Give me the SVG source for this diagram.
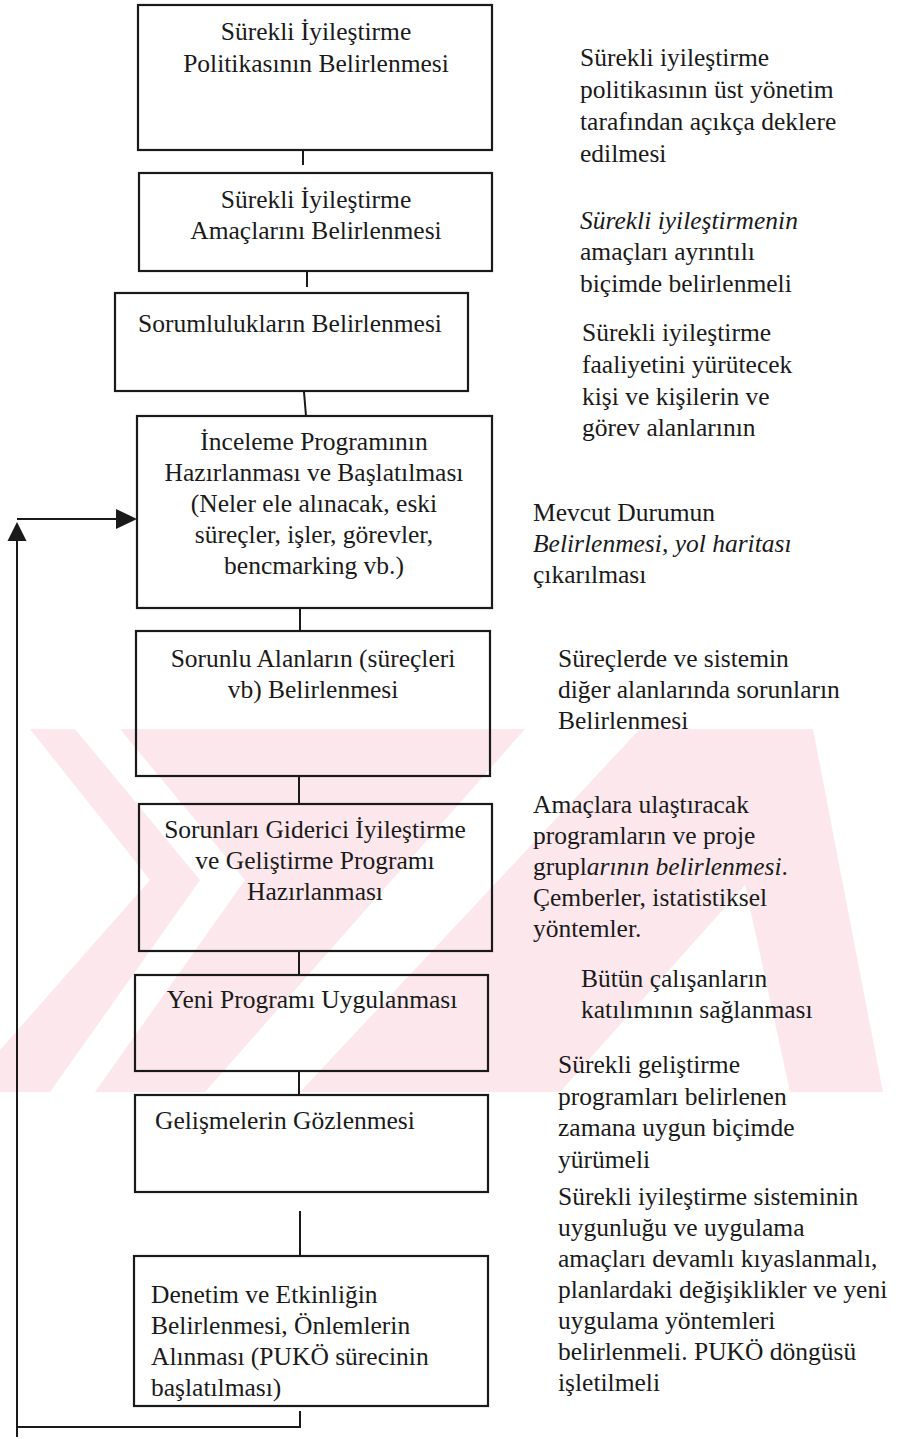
<svg xmlns="http://www.w3.org/2000/svg" width="906" height="1439" viewBox="0 0 906 1439">
  <style>
    .box { fill: none; stroke: #1a1a1a; stroke-width: 2.2; }
    .ln { fill: none; stroke: #1a1a1a; stroke-width: 2; }
    .t { font-family: "Liberation Serif", "Times New Roman", serif; font-size: 25.5px; fill: #1a1a1a; }
    .c { text-anchor: middle; }
    .i { font-style: italic; }
    .wm { fill: #fce8ec; }
    .wmcut { fill: #ffffff; }
  </style>

  <rect width="906" height="1439" fill="#ffffff"/>

  <!-- pale background emblem band -->
  <g id="emblem">
    <rect class="wm" x="0" y="729" width="906" height="363"/>
    <polygon class="wmcut" points="0,729 30,729 150,880 0,1050"/>
    <polygon class="wmcut" points="75,729 120,729 245,880 95,1092 50,1092 200,880"/>
    <polygon class="wmcut" points="525,729 640,729 300,1092 205,1092"/>
    <polygon class="wmcut" points="560,1092 745,885 790,1092"/>
    <polygon class="wmcut" points="813,729 906,729 906,1092 883,1092"/>
  </g>

  <!-- connectors -->
  <g id="connectors">
    <line class="ln" x1="303" y1="151" x2="303" y2="165"/>
    <line class="ln" x1="307" y1="272" x2="307" y2="287"/>
    <line class="ln" x1="304" y1="392" x2="306" y2="416"/>
    <line class="ln" x1="300" y1="609" x2="300" y2="631"/>
    <line class="ln" x1="299" y1="777" x2="299" y2="804"/>
    <line class="ln" x1="299" y1="952" x2="299" y2="975"/>
    <line class="ln" x1="299" y1="1072" x2="299" y2="1095"/>
    <line class="ln" x1="300" y1="1211" x2="300" y2="1255"/>
    <!-- feedback loop back to the review programme -->
    <polyline class="ln" points="300,1411 300,1427 17,1427"/>
    <line class="ln" x1="17" y1="1437" x2="17" y2="530"/>
    <path d="M17,522 L26.5,541 L7.5,541 Z" fill="#1a1a1a"/>
    <line class="ln" x1="17" y1="519" x2="117" y2="519"/>
    <path d="M137,519 L116,509 L116,529 Z" fill="#1a1a1a"/>
  </g>

  <g id="n1">
    <rect class="box" x="138" y="5" width="354" height="145"/>
    <text class="t c" x="316" y="40">Sürekli İyileştirme</text>
    <text class="t c" x="316" y="72">Politikasının Belirlenmesi</text>
  </g>
  <g id="n2">
    <rect class="box" x="139" y="173" width="353" height="98"/>
    <text class="t c" x="316" y="208">Sürekli İyileştirme</text>
    <text class="t c" x="316" y="239">Amaçlarını Belirlenmesi</text>
  </g>
  <g id="n3">
    <rect class="box" x="115" y="293" width="353" height="98"/>
    <text class="t c" x="290" y="332">Sorumlulukların Belirlenmesi</text>
  </g>
  <g id="n4">
    <rect class="box" x="137" y="416" width="355" height="192"/>
    <text class="t c" x="314" y="450">İnceleme Programının</text>
    <text class="t c" x="314" y="481">Hazırlanması ve Başlatılması</text>
    <text class="t c" x="314" y="512">(Neler ele alınacak, eski</text>
    <text class="t c" x="314" y="543">süreçler, işler, görevler,</text>
    <text class="t c" x="314" y="574">bencmarking vb.)</text>
  </g>
  <g id="n5">
    <rect class="box" x="136" y="631" width="354" height="145"/>
    <text class="t c" x="313" y="667">Sorunlu Alanların (süreçleri</text>
    <text class="t c" x="313" y="698">vb) Belirlenmesi</text>
  </g>
  <g id="n6">
    <rect class="box" x="139" y="804" width="353" height="147"/>
    <text class="t c" x="315" y="838">Sorunları Giderici İyileştirme</text>
    <text class="t c" x="315" y="869">ve Geliştirme Programı</text>
    <text class="t c" x="315" y="900">Hazırlanması</text>
  </g>
  <g id="n7">
    <rect class="box" x="135" y="975" width="353" height="96"/>
    <text class="t c" x="312" y="1008">Yeni Programı Uygulanması</text>
  </g>
  <g id="n8">
    <rect class="box" x="135" y="1095" width="353" height="97"/>
    <text class="t" x="155" y="1129">Gelişmelerin Gözlenmesi</text>
  </g>
  <g id="n9">
    <rect class="box" x="134" y="1256" width="354" height="150"/>
    <text class="t" x="151" y="1303">Denetim ve Etkinliğin</text>
    <text class="t" x="151" y="1334">Belirlenmesi, Önlemlerin</text>
    <text class="t" x="151" y="1365">Alınması  (PUKÖ sürecinin</text>
    <text class="t" x="151" y="1396">başlatılması)</text>
  </g>

  <!-- side notes -->
  <g id="note1" class="t">
    <text x="580" y="66">Sürekli iyileştirme</text>
    <text x="580" y="98">politikasının üst yönetim</text>
    <text x="580" y="130">tarafından açıkça deklere</text>
    <text x="580" y="162">edilmesi</text>
  </g>
  <g id="note2" class="t">
    <text x="580" y="229" class="i">Sürekli iyileştirmenin</text>
    <text x="580" y="260">amaçları ayrıntılı</text>
    <text x="580" y="292">biçimde belirlenmeli</text>
  </g>
  <g id="note3" class="t">
    <text x="582" y="341">Sürekli iyileştirme</text>
    <text x="582" y="373">faaliyetini yürütecek</text>
    <text x="582" y="405">kişi ve kişilerin ve</text>
    <text x="582" y="436">görev alanlarının</text>
  </g>
  <g id="note4" class="t">
    <text x="533" y="521">Mevcut Durumun</text>
    <text x="533" y="552" class="i">Belirlenmesi, yol haritası</text>
    <text x="533" y="583">çıkarılması</text>
  </g>
  <g id="note5" class="t">
    <text x="558" y="667">Süreçlerde ve sistemin</text>
    <text x="558" y="698">diğer alanlarında sorunların</text>
    <text x="558" y="729">Belirlenmesi</text>
  </g>
  <g id="note6" class="t">
    <text x="533" y="813">Amaçlara ulaştıracak</text>
    <text x="533" y="844">programların ve proje</text>
    <text x="533" y="875">grupl<tspan class="i">arının belirlenmesi</tspan>.</text>
    <text x="533" y="906">Çemberler, istatistiksel</text>
    <text x="533" y="937">yöntemler.</text>
  </g>
  <g id="note7" class="t">
    <text x="581" y="987">Bütün çalışanların</text>
    <text x="581" y="1018">katılımının sağlanması</text>
  </g>
  <g id="note8" class="t">
    <text x="558" y="1073">Sürekli geliştirme</text>
    <text x="558" y="1105">programları belirlenen</text>
    <text x="558" y="1136">zamana uygun biçimde</text>
    <text x="558" y="1168">yürümeli</text>
  </g>
  <g id="note9" class="t">
    <text x="558" y="1205">Sürekli iyileştirme sisteminin</text>
    <text x="558" y="1236">uygunluğu ve uygulama</text>
    <text x="558" y="1267">amaçları devamlı kıyaslanmalı,</text>
    <text x="558" y="1298">planlardaki değişiklikler ve yeni</text>
    <text x="558" y="1329">uygulama yöntemleri</text>
    <text x="558" y="1360">belirlenmeli. PUKÖ döngüsü</text>
    <text x="558" y="1391">işletilmeli</text>
  </g>
</svg>
